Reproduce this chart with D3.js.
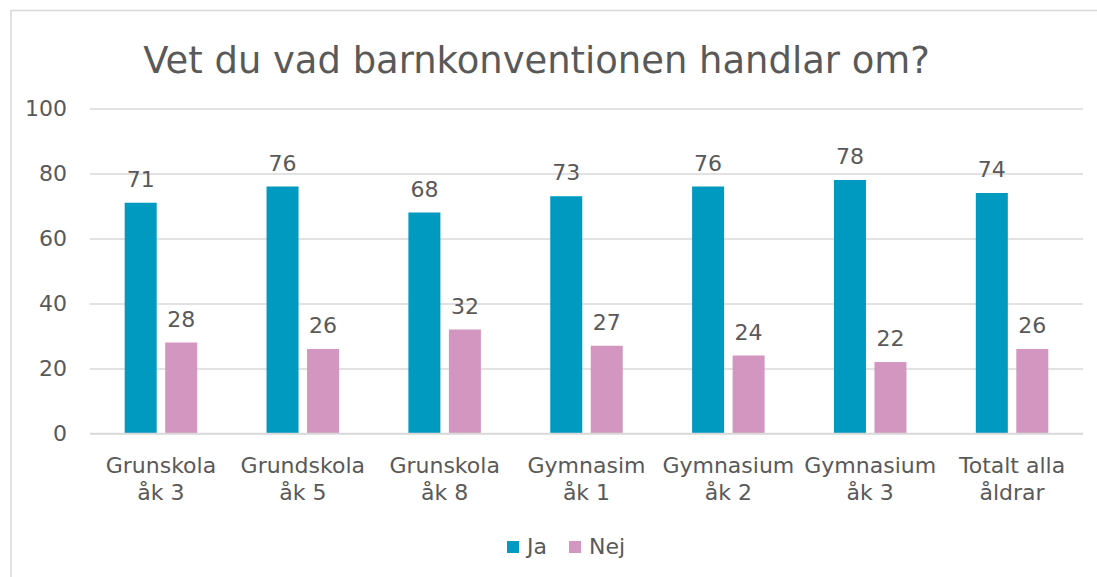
<!DOCTYPE html>
<html>
<head>
<meta charset="utf-8">
<script src="https://cdn.jsdelivr.net/npm/d3@7"></script>
<style>
    body { margin: 0; background: #fff; }
    svg text { font-family: "DejaVu Sans", sans-serif; fill: #595959; }
</style>
</head>
<body>
<div id="chart"></div>
<script>
// data
const categories = [
    ["Grunskola", "åk 3"],
    ["Grundskola", "åk 5"],
    ["Grunskola", "åk 8"],
    ["Gymnasim", "åk 1"],
    ["Gymnasium", "åk 2"],
    ["Gymnasium", "åk 3"],
    ["Totalt alla", "åldrar"]
];
const seriesNames = ["Ja", "Nej"];
const jaValues = [71, 76, 68, 73, 76, 78, 74];
const nejValues = [28, 26, 32, 27, 24, 22, 26];
const yTicks = [0, 20, 40, 60, 80, 100];
const title = "Vet du vad barnkonventionen handlar om?";

const colors = { Ja: "#0099BF", Nej: "#D396C0" };
const gridColor = "#D9D9D9";

const width = 1097, height = 577;
const margin = { left: 90, right: 14, top: 108.5, bottom: 143.5 };

const svg = d3.select("#chart").append("svg")
    .attr("width", width)
    .attr("height", height);

// chart frame (cropped at right and bottom)
svg.append("path")
    .attr("d", `M11,${height} L11,10.5 L${width},10.5`)
    .attr("fill", "none")
    .attr("stroke", gridColor)
    .attr("stroke-width", 1.5);

const x0 = d3.scaleBand()
    .domain(d3.range(categories.length))
    .range([margin.left, width - margin.right])
    .padding(0);

const pairWidth = 72.5;
const x1 = d3.scaleBand()
    .domain(seriesNames)
    .range([(x0.bandwidth() - pairWidth) / 2, (x0.bandwidth() + pairWidth) / 2])
    .paddingInner(0.21);

const y = d3.scaleLinear()
    .domain([0, 100])
    .range([height - margin.bottom, margin.top]);

// gridlines + y labels
const yAxis = svg.append("g")
    .attr("transform", `translate(${margin.left},0)`)
    .call(d3.axisLeft(y).tickValues(yTicks).tickSize(-(width - margin.left - margin.right)).tickPadding(23));
yAxis.select(".domain").remove();
yAxis.selectAll(".tick line").attr("stroke", gridColor).attr("stroke-width", 1.5);
yAxis.selectAll(".tick text")
    .attr("font-size", 22)
    .attr("font-family", "DejaVu Sans")
    .attr("fill", "#595959");

// bars
const rows = categories.map((c, i) => ({ i, Ja: jaValues[i], Nej: nejValues[i] }));
const groups = svg.append("g").selectAll("g")
    .data(rows)
    .join("g")
    .attr("transform", d => `translate(${x0(d.i)},0)`);

groups.selectAll("rect")
    .data(d => seriesNames.map(k => ({ key: k, value: d[k] })))
    .join("rect")
    .attr("x", d => x1(d.key))
    .attr("width", x1.bandwidth())
    .attr("y", d => y(d.value))
    .attr("height", d => y(0) - y(d.value))
    .attr("fill", d => colors[d.key]);

groups.selectAll("text.val")
    .data(d => seriesNames.map(k => ({ key: k, value: d[k] })))
    .join("text")
    .attr("class", "val")
    .attr("x", d => x1(d.key) + x1.bandwidth() / 2)
    .attr("y", d => y(d.value) - 16)
    .attr("text-anchor", "middle")
    .attr("font-size", 22)
    .text(d => d.value);

// x baseline
svg.append("line")
    .attr("x1", margin.left).attr("x2", width - margin.right)
    .attr("y1", y(0)).attr("y2", y(0))
    .attr("stroke", gridColor).attr("stroke-width", 1.5);

// category labels
const catLabels = svg.append("g").selectAll("text")
    .data(categories)
    .join("text")
    .attr("text-anchor", "middle")
    .attr("font-size", 22)
    .attr("transform", (d, i) => `translate(${x0(i) + x0.bandwidth() / 2},0)`);
catLabels.selectAll("tspan")
    .data(d => d)
    .join("tspan")
    .attr("x", 0)
    .attr("y", (d, j) => 473 + j * 27)
    .text(d => d);

// title, fitted to the reference width
const titleText = svg.append("text")
    .attr("x", 536.5)
    .attr("y", 73)
    .attr("text-anchor", "middle")
    .attr("font-size", 36)
    .text(title);
const tw = titleText.node().getComputedTextLength();
titleText.attr("font-size", 36 * 787 / tw);

// legend
const legend = svg.append("g").attr("transform", "translate(507,541)");
const legendOffsets = { Ja: 0, Nej: 62 };
seriesNames.forEach(k => {
    const g = legend.append("g").attr("transform", `translate(${legendOffsets[k]},0)`);
    g.append("rect").attr("width", 12).attr("height", 12).attr("fill", colors[k]);
    g.append("text").attr("x", 20).attr("y", 12.5).attr("font-size", 22).text(k);
});
</script>
</body>
</html>
